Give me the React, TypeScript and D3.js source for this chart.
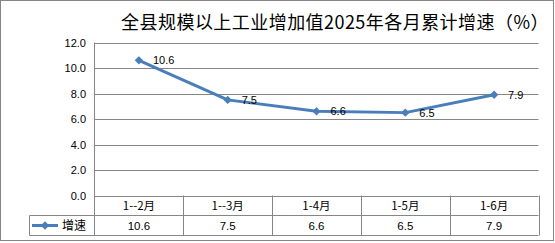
import React from "react";
import * as d3 from "d3";

const categories = ["1--2月", "1--3月", "1-4月", "1-5月", "1-6月"];
const growth = [10.6, 7.5, 6.6, 6.5, 7.9];
const yTicks = [0, 2, 4, 6, 8, 10, 12];
const seriesName = "增速";
const title = "全县规模以上工业增加值2025年各月累计增速（%）";

const W = 555, H = 243;
const plotL = 94.5, plotR = 538.5, plotT = 42.5, plotB = 195.5;
const rowH = 20;
const legendL = 29.5;
const gridColor = "#868686";
const lineColor = "#4a7ebb";
const numFont = "'Liberation Sans', Arial, sans-serif";
const cjkFont = "'Noto Sans CJK SC', sans-serif";

export default function App() {
  const x = d3.scaleBand<string>().domain(categories).range([plotL, plotR]).padding(0);
  const y = d3.scaleLinear().domain([0, 12]).range([plotB, plotT]);
  const cx = (c: string) => (x(c) as number) + x.bandwidth() / 2;
  const pts: [number, number][] = categories.map((c, i) => [cx(c), y(growth[i])]);
  const line = d3.line()(pts) as string;
  const diamond = d3.symbol().type(d3.symbolDiamond2).size(45)() as string;
  const r1 = plotB + rowH, r2 = plotB + 2 * rowH;

  return (
    <svg width={W} height={H} style={{ position: "absolute", left: 0, top: 0 }}>
      <rect x={0} y={0} width={W} height={H} fill="#fff" />
      <rect x={0.5} y={0.5} width={553} height={240} fill="none" stroke={gridColor} />
      <text x={335} y={29} textAnchor="middle" fontFamily={cjkFont} fontSize={18} letterSpacing={0.45} fill="#000">{title}</text>
      {yTicks.map((t) => (
        <g key={t}>
          <line x1={plotL} x2={plotR} y1={Math.round(y(t)) + 0.5} y2={Math.round(y(t)) + 0.5} stroke={gridColor} />
          <text x={86} y={y(t) + 4} textAnchor="end" fontFamily={numFont} fontSize={11} fill="#000">{t.toFixed(1)}</text>
        </g>
      ))}
      <line x1={plotL} x2={plotL} y1={plotT} y2={r2} stroke={gridColor} />
      {/* table */}
      <line x1={legendL} x2={plotR} y1={r1} y2={r1} stroke={gridColor} />
      <line x1={legendL} x2={plotR} y1={r2} y2={r2} stroke={gridColor} />
      <line x1={legendL} x2={legendL} y1={r1} y2={r2} stroke={gridColor} />
      {categories.map((c) => (
        <line key={c} x1={Math.round((x(c) as number) + x.bandwidth()) + 0.5} x2={Math.round((x(c) as number) + x.bandwidth()) + 0.5} y1={plotB} y2={r2} stroke={gridColor} />
      ))}
      {categories.map((c, i) => (
        <g key={"t" + c}>
          <text x={cx(c)} y={plotB + 14.5} textAnchor="middle" fontFamily={cjkFont} fontSize={11.5} fill="#000">{c}</text>
          <text x={cx(c)} y={r1 + 14.5} textAnchor="middle" fontFamily={numFont} fontSize={11.5} fill="#000">{growth[i].toFixed(1)}</text>
        </g>
      ))}
      <line x1={32} x2={58} y1={r1 + 10} y2={r1 + 10} stroke={lineColor} strokeWidth={3} />
      <path d={diamond} transform={`translate(45,${r1 + 10})`} fill={lineColor} />
      <text x={62} y={r1 + 14.5} fontFamily={cjkFont} fontSize={12} fill="#000">{seriesName}</text>
      {/* series */}
      <path d={line} fill="none" stroke={lineColor} strokeWidth={3} strokeLinejoin="round" />
      {pts.map((p, i) => (
        <g key={"p" + i}>
          <path d={diamond} transform={`translate(${p[0]},${p[1]})`} fill={lineColor} />
          <text x={p[0] + 14} y={p[1] + 4} fontFamily={numFont} fontSize={11} fill="#000">{growth[i].toFixed(1)}</text>
        </g>
      ))}
    </svg>
  );
}
